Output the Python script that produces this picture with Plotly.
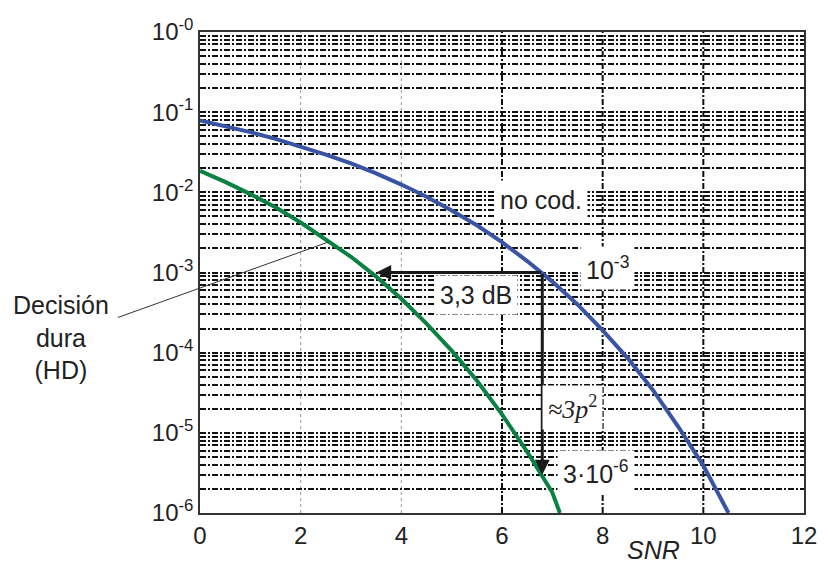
import numpy as np
import plotly.graph_objects as go

# SNR (dB) and bit error rates
snr_uncoded = [0, 0.5, 1, 1.5, 2, 2.5, 3, 3.5, 4, 4.5, 5, 5.5, 6, 6.5, 7, 7.5, 8, 8.5, 9, 9.5, 10, 10.5]
ber_uncoded = [7.86e-2, 6.7e-2, 5.63e-2, 4.65e-2, 3.75e-2, 2.96e-2, 2.29e-2, 1.72e-2, 1.25e-2, 8.8e-3,
               5.95e-3, 3.88e-3, 2.39e-3, 1.39e-3, 7.7e-4, 4.0e-4, 1.9e-4, 8.5e-5, 3.4e-5, 1.2e-5,
               3.9e-6, 1.0e-6]

snr_hd = [0, 0.5, 1, 1.5, 2, 2.5, 3, 3.5, 4, 4.5, 5, 5.5, 6, 6.5, 7, 7.15]
ber_hd = [1.85e-2, 1.35e-2, 9.5e-3, 6.5e-3, 4.2e-3, 2.6e-3, 1.57e-3, 8.9e-4, 4.7e-4, 2.3e-4,
          1.06e-4, 4.5e-5, 1.7e-5, 5.8e-6, 1.8e-6, 1.0e-6]

x_ticks = [0, 2, 4, 6, 8, 10, 12]
decades = [0, -1, -2, -3, -4, -5, -6]

# reference operating point and gain
snr_ref = 6.8
ber_ref = 1e-3
gain_db = 3.3
ber_coded_ref = 3e-6

# decade labels and k*10^n grid lines
y_major = [10.0 ** n for n in decades]
y_major_text = [f"10<sup>{n if n < 0 else '-0'}</sup>" for n in decades]
y_minor = [k * 10.0 ** n for n in range(-6, 0) for k in range(2, 10)]

FONT = "Liberation Sans"
TXT = 25
TICK = 24
GRID_DASH = "6px,2px,2px,2px"
fig = go.Figure()

fig.add_trace(go.Scatter(x=snr_uncoded, y=ber_uncoded, mode="lines",
                         line=dict(color="#3a54a4", width=4), showlegend=False))
fig.add_trace(go.Scatter(x=snr_hd, y=ber_hd, mode="lines",
                         line=dict(color="#0a8042", width=4), showlegend=False))

# vertical grid lines
shapes = []
for xv in [2, 4]:
    shapes.append(dict(type="line", xref="x", yref="paper", x0=xv, x1=xv, y0=0, y1=1,
                       line=dict(color="#9a9a9a", width=1, dash="dot"), layer="below"))
for xv in [6, 8, 10]:
    shapes.append(dict(type="line", xref="x", yref="paper", x0=xv, x1=xv, y0=0, y1=1,
                       line=dict(color="#111", width=2, dash=GRID_DASH), layer="below"))

pw, ph = 829 - 200 - 17, 563 - 32 - 50

annotations = []
box = dict(bgcolor="white", borderpad=5, font=dict(family=FONT, size=TXT, color="#222"),
           showarrow=False, xref="x", yref="y")

# gain arrow (horizontal) and coded-BER arrow (vertical)
annotations.append(dict(x=snr_ref - gain_db, y=np.log10(ber_ref), ax=snr_ref, ay=np.log10(ber_ref),
                        xref="x", yref="y", axref="x", ayref="y", text="", showarrow=True,
                        arrowhead=2, arrowsize=1, arrowwidth=3, arrowcolor="#1a1a1a"))
annotations.append(dict(x=snr_ref, y=np.log10(ber_coded_ref), ax=snr_ref, ay=np.log10(ber_ref),
                        xref="x", yref="y", axref="x", ayref="y", text="", showarrow=True,
                        arrowhead=2, arrowsize=1, arrowwidth=3, arrowcolor="#1a1a1a"))

annotations.append(dict(box, x=6.78, y=-2.1, text="no cod."))
annotations.append(dict(box, x=8.1, y=-2.94, text="10<sup>-3</sup>"))
annotations.append(dict(box, x=5.49, y=-3.28, text=f"{gain_db:.1f}".replace(".", ",") + " dB"))
annotations.append(dict(box, x=7.41, y=-4.69, text="<i>≈3p</i><sup>2</sup>",
                        font=dict(family="Liberation Serif", size=TXT + 1, color="#222")))
annotations.append(dict(box, x=7.86, y=-5.49, text="3·10<sup>-6</sup>"))

# leader line for the hard-decision curve
annotations.append(dict(x=2.55, y=np.log10(2.4e-3), xref="x", yref="y", ax=-212, ay=76,
                        text="", showarrow=True, arrowhead=0, arrowwidth=1, arrowcolor="#333"))
annotations.append(dict(x=(59 - 200) / pw, y=(563 - 50 - 337) / ph, xref="paper", yref="paper",
                        xanchor="center", yanchor="middle", text="Decisión<br>dura<br>(HD)",
                        showarrow=False, font=dict(family=FONT, size=TXT, color="#222")))

# axis title
annotations.append(dict(x=9.0, y=(513 - 550) / ph, xref="x", yref="paper", yanchor="middle",
                        text="<i>SNR</i>", showarrow=False,
                        font=dict(family=FONT, size=TXT, color="#222")))

fig.update_layout(
    width=829, height=563,
    margin=dict(l=200, r=17, t=32, b=50),
    paper_bgcolor="white", plot_bgcolor="white",
    shapes=shapes,
    xaxis=dict(range=[0, 12], tickvals=x_ticks, ticktext=[str(v) for v in x_ticks],
               showgrid=False, zeroline=False, showline=True, mirror=True,
               linecolor="#333", linewidth=1.5, ticks="",
               tickfont=dict(family=FONT, size=TICK, color="#222")),
    yaxis=dict(type="log", range=[-6, 0], tickvals=y_major, ticktext=y_major_text,
               showgrid=True, gridcolor="#111", gridwidth=2, griddash=GRID_DASH,
               minor=dict(tickvals=y_minor, showgrid=True, gridcolor="#111", gridwidth=2,
                          griddash=GRID_DASH, ticks=""),
               zeroline=False, showline=True, mirror=True, linecolor="#333", linewidth=1.5,
               ticks="", tickfont=dict(family=FONT, size=TICK, color="#222")),
    annotations=annotations,
)

fig.write_html("out.html")
